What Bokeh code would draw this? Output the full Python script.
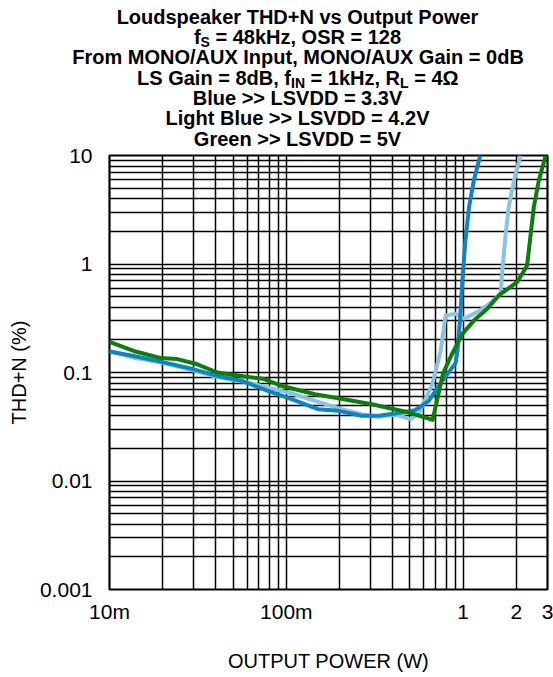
from bokeh.plotting import figure
from bokeh.layouts import column
from bokeh.models import FixedTicker
from bokeh.core.properties import value
from bokeh.embed import file_html
from bokeh.resources import INLINE

# ---------------- data ----------------
power_blue = [0.01, 0.0137, 0.0194, 0.030, 0.0408, 0.0555, 0.0787, 0.107, 0.151, 0.197,
              0.267, 0.333, 0.414, 0.537, 0.64, 0.763, 0.906, 0.93, 0.96, 0.99, 1.03,
              1.08, 1.15, 1.25]
thd_blue = [0.156, 0.142, 0.126, 0.107, 0.093, 0.084, 0.0678, 0.0568, 0.0459, 0.0443,
            0.0399, 0.0399, 0.0419, 0.045, 0.0548, 0.084, 0.122, 0.16, 0.3, 0.7, 1.65,
            3.34, 5.9, 10.0]

power_lblue = [0.01, 0.0137, 0.0194, 0.030, 0.0408, 0.0605, 0.086, 0.111, 0.145, 0.206,
               0.267, 0.333, 0.414, 0.504, 0.562, 0.669, 0.746, 0.795, 0.906, 1.01, 1.2,
               1.37, 1.63, 1.66, 1.74, 1.81, 1.94, 2.11]
thd_lblue = [0.158, 0.137, 0.124, 0.104, 0.091, 0.081, 0.0702, 0.063, 0.0548, 0.0459,
             0.0413, 0.039, 0.041, 0.0372, 0.0419, 0.078, 0.158, 0.335, 0.348, 0.313, 0.36,
             0.415, 0.531, 0.81, 1.9, 3.34, 5.9, 10.0]

power_green = [0.01, 0.0137, 0.0194, 0.0242, 0.0314, 0.0408, 0.0555, 0.0753, 0.0937, 0.145,
               0.197, 0.305, 0.493, 0.672, 0.77, 0.867, 0.99, 1.15, 1.37, 1.59, 2.02, 2.3,
               2.51, 2.68, 2.93]
thd_green = [0.192, 0.158, 0.136, 0.133, 0.119, 0.100, 0.093, 0.087, 0.0754, 0.063,
             0.058, 0.051, 0.0428, 0.0366, 0.098, 0.149, 0.227, 0.301, 0.387, 0.513, 0.68,
             0.97, 3.34, 5.9, 10.0]

x_major = [0.01, 0.1, 1, 2, 3]
x_labels = ["10m", "100m", "1", "2", "3"]
y_major = [0.001, 0.01, 0.1, 1, 10]
y_labels = ["0.001", "0.01", "0.1", "1", "10"]

title_lines = [
    [("Loudspeaker THD+N vs Output Power", False)],
    [("f", False), ("S", True), (" = 48kHz, OSR = 128", False)],
    [("From MONO/AUX Input, MONO/AUX Gain = 0dB", False)],
    [("LS Gain = 8dB, f", False), ("IN", True), (" = 1kHz, R", False), ("L", True), (" = 4Ω", False)],
    [("Blue >> LSVDD = 3.3V", False)],
    [("Light Blue >> LSVDD = 4.2V", False)],
    [("Green >> LSVDD = 5V", False)],
]

# ---------------- layout numbers ----------------
W = 553
TOP_H = 151            # title area height
OVERLAP = 8            # main figure starts this much above the title area's end
ML, MR, MT, MB = 109, 6, 12, 88
FH = 434
H_MAIN = MT + FH + MB  # 534 ; 151 - 8 + 534 = 677

# ---------------- title figure ----------------
t = figure(width=W, height=TOP_H, x_range=(0, W), y_range=(0, TOP_H),
           output_backend="svg", toolbar_location=None, title=None,
           x_axis_location=None, y_axis_location=None, min_border=0)
t.grid.visible = False
t.outline_line_color = None
t.frame_align = False

AW = {' ': 278, ',': 278, '=': 584, '>': 584, '.': 278, '/': 278, '+': 584, 'Ω': 770,
      'A': 722, 'B': 722, 'D': 722, 'G': 778, 'H': 722, 'I': 278, 'L': 611, 'M': 833,
      'N': 722, 'O': 778, 'P': 667, 'R': 722, 'S': 667, 'T': 611, 'U': 722, 'V': 667,
      'X': 667, 'a': 556, 'b': 611, 'd': 611, 'e': 556, 'f': 333, 'g': 611, 'h': 611,
      'i': 278, 'k': 556, 'l': 278, 'm': 889, 'n': 611, 'o': 611, 'p': 611, 'r': 389,
      's': 556, 't': 333, 'u': 611, 'v': 556, 'w': 778, 'z': 500}


def tw(s, size):
    return sum(AW.get(c, 556) for c in s) * size / 1000.0


F, FS = 20, 14
TITLE_CX = 297
main_x, main_y, main_t = [], [], []
sub_x, sub_y, sub_t = [], [], []
for i, segs in enumerate(title_lines):
    cy = 9 + 20.3 * i
    base = cy + 0.36 * F
    total = sum(tw(s, FS if sub else F) for s, sub in segs)
    x = TITLE_CX - total / 2.0
    for s, sub in segs:
        size = FS if sub else F
        stripped = s.lstrip(" ")
        lead = tw(s[:len(s) - len(stripped)], size)   # leading blanks are collapsed in SVG
        if sub:
            sub_x.append(x + lead); sub_y.append(TOP_H - (base + 5)); sub_t.append(stripped)
        else:
            main_x.append(x + lead); main_y.append(TOP_H - base); main_t.append(stripped)
        x += tw(s, size)

t.text(x=main_x, y=main_y, text=main_t, text_font=value("Liberation Sans"),
       text_font_style="bold", text_font_size=value(f"{F}px"), text_color="black",
       text_align="left", text_baseline="alphabetic")
t.text(x=sub_x, y=sub_y, text=sub_t, text_font=value("Liberation Sans"),
       text_font_style="bold", text_font_size=value(f"{FS}px"), text_color="black",
       text_align="left", text_baseline="alphabetic")

# ---------------- main figure ----------------
p = figure(width=W, height=H_MAIN, x_axis_type="log", y_axis_type="log",
           x_range=(0.01, 3), y_range=(0.001, 10),
           output_backend="svg", toolbar_location=None, title=None,
           min_border_left=ML, min_border_right=MR, min_border_top=MT, min_border_bottom=MB)
p.frame_align = False
p.margin = (-OVERLAP, 0, 0, 0)
p.border_fill_color = None
p.background_fill_color = "white"

x_minor = [k * 10.0 ** e for e in (-2, -1) for k in range(2, 10)]
y_minor = [k * 10.0 ** e for e in (-3, -2, -1, 0) for k in range(2, 10)]
p.xaxis.ticker = FixedTicker(ticks=x_major, minor_ticks=x_minor)
p.yaxis.ticker = FixedTicker(ticks=y_major, minor_ticks=y_minor)
p.xaxis.major_label_overrides = dict(zip(x_major, x_labels))
p.yaxis.major_label_overrides = dict(zip(y_major, y_labels))

for ax in (p.xaxis, p.yaxis):
    ax.axis_line_color = None
    ax.major_tick_line_color = None
    ax.minor_tick_line_color = None
    ax.major_tick_out = 0
    ax.major_tick_in = 0
    ax.minor_tick_out = 0
    ax.minor_tick_in = 0
    ax.major_label_text_font = "Liberation Sans"
    ax.major_label_text_font_size = "21px"
    ax.major_label_text_color = "black"
    ax.axis_label_text_font = "Liberation Sans"
    ax.axis_label_text_font_size = "20px"
    ax.axis_label_text_font_style = "normal"
    ax.axis_label_text_color = "black"

p.xaxis.axis_label = "OUTPUT POWER (W)"
p.yaxis.axis_label = "THD+N (%)"
p.xaxis.major_label_standoff = 10
p.xaxis.axis_label_standoff = 24
p.yaxis.major_label_standoff = 17
p.yaxis.axis_label_standoff = 7

for g in (p.xgrid, p.ygrid):
    g.grid_line_color = "black"
    g.grid_line_width = 1.5
    g.grid_line_alpha = 1.0
    g.minor_grid_line_color = "black"
    g.minor_grid_line_width = 1.5

p.outline_line_color = "black"
p.outline_line_width = 2.2

LW = 4
p.line(power_lblue, thd_lblue, line_color="#88c4e4", line_width=LW, line_join="round")
p.line(power_blue, thd_blue, line_color="#0a86c6", line_width=LW, line_join="round")
p.line(power_green, thd_green, line_color="#0a800a", line_width=LW, line_join="round")

layout = column(t, p, spacing=0)
open("out.html", "w").write(file_html(layout, INLINE))
